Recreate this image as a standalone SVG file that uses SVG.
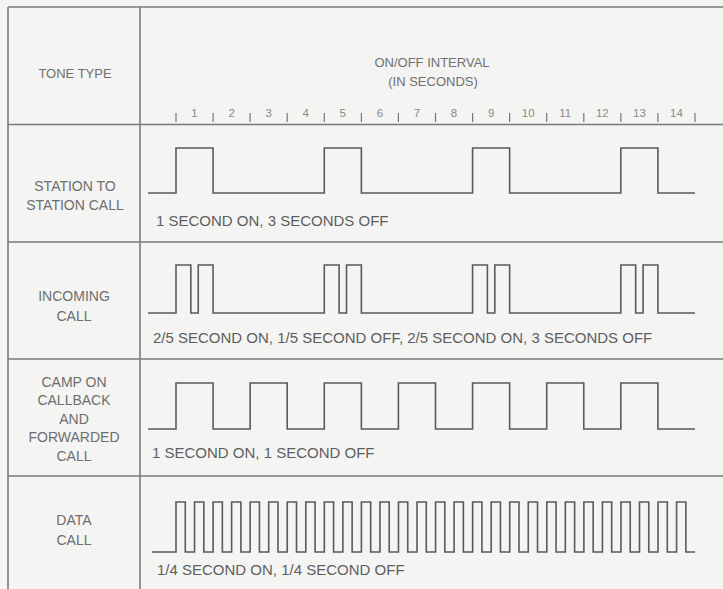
<svg xmlns="http://www.w3.org/2000/svg" width="723" height="589" viewBox="0 0 723 589">
<style>
.bg{fill:#f4f4f2}
.grid{stroke:#7a7a7a;stroke-width:1.6;fill:none}
.wave{stroke:#5a5a5a;stroke-width:1.6;fill:none}
.tick{stroke:#777;stroke-width:1.2}
.lbl{font-family:"Liberation Sans",Arial,sans-serif;font-size:14px;fill:#6e6e6e;text-anchor:middle}
.hdr{font-family:"Liberation Sans",Arial,sans-serif;font-size:13px;fill:#707070;text-anchor:middle}
.num{font-family:"Liberation Sans",Arial,sans-serif;font-size:11.5px;fill:#8a8a8a;text-anchor:middle}
.desc{font-family:"Liberation Sans",Arial,sans-serif;font-size:15px;fill:#5e5e5e}
</style>
<rect class="bg" x="0" y="0" width="723" height="589"/>
<g id="table">
<path class="grid" d="M8,7 H723 M8,7 V589 M140,7 V589 M8,124.5 H723 M8,242 H723 M8,359 H723 M8,476 H723"/>
</g>
<g id="header">
<text class="hdr" x="75" y="78">TONE TYPE</text>
<text class="hdr" x="432" y="67">ON/OFF INTERVAL</text>
<text class="hdr" x="433" y="86">(IN SECONDS)</text>
</g>
<g id="scale">
<path class="tick" d="M176,113v9 M213.1,113v9 M250.1,113v9 M287.2,113v9 M324.3,113v9 M361.4,113v9 M398.4,113v9 M435.5,113v9 M472.6,113v9 M509.6,113v9 M546.7,113v9 M583.8,113v9 M620.9,113v9 M657.9,113v9 M695,113v9"/>
<text class="num" x="194.5" y="117">1</text>
<text class="num" x="231.6" y="117">2</text>
<text class="num" x="268.7" y="117">3</text>
<text class="num" x="305.7" y="117">4</text>
<text class="num" x="342.8" y="117">5</text>
<text class="num" x="379.9" y="117">6</text>
<text class="num" x="417" y="117">7</text>
<text class="num" x="454" y="117">8</text>
<text class="num" x="491.1" y="117">9</text>
<text class="num" x="528.2" y="117">10</text>
<text class="num" x="565.2" y="117">11</text>
<text class="num" x="602.3" y="117">12</text>
<text class="num" x="639.4" y="117">13</text>
<text class="num" x="676.5" y="117">14</text>
</g>
<g id="row-station">
<text class="lbl" x="75" y="191">STATION  TO</text>
<text class="lbl" x="75" y="210">STATION CALL</text>
<path class="wave" d="M148,193 H176 v-45 h37.07 v45 h111.21 v-45 h37.07 v45 h111.21 v-45 h37.07 v45 h111.21 v-45 h37.07 v45 h37.07"/>
<text class="desc" x="156" y="226">1 SECOND ON, 3 SECONDS OFF</text>
</g>
<g id="row-incoming">
<text class="lbl" x="74" y="301">INCOMING</text>
<text class="lbl" x="74" y="321">CALL</text>
<path class="wave" d="M148,313 H176 v-48 h14.83 v48 h7.41 v-48 h14.83 v48 h111.21 v-48 h14.83 v48 h7.41 v-48 h14.83 v48 h111.21 v-48 h14.83 v48 h7.41 v-48 h14.83 v48 h111.21 v-48 h14.83 v48 h7.41 v-48 h14.83 v48 h37.07"/>
<text class="desc" x="153" y="343">2/5 SECOND ON, 1/5 SECOND OFF, 2/5 SECOND ON, 3 SECONDS OFF</text>
</g>
<g id="row-camp">
<text class="lbl" x="74" y="387">CAMP ON</text>
<text class="lbl" x="74" y="405">CALLBACK</text>
<text class="lbl" x="74" y="424">AND</text>
<text class="lbl" x="74" y="442">FORWARDED</text>
<text class="lbl" x="74" y="461">CALL</text>
<path class="wave" d="M148,429 H176 v-46 h37.07 v46 h37.07 v-46 h37.07 v46 h37.07 v-46 h37.07 v46 h37.07 v-46 h37.07 v46 h37.07 v-46 h37.07 v46 h37.07 v-46 h37.07 v46 h37.07 v-46 h37.07 v46 h37.07"/>
<text class="desc" x="152" y="458">1 SECOND ON, 1 SECOND OFF</text>
</g>
<g id="row-data">
<text class="lbl" x="74" y="525">DATA</text>
<text class="lbl" x="74" y="545">CALL</text>
<path class="wave" d="M152,552 H176
v-50h9.27v50h9.27v-50h9.27v50h9.27v-50h9.27v50h9.27v-50h9.27v50h9.27
v-50h9.27v50h9.27v-50h9.27v50h9.27v-50h9.27v50h9.27v-50h9.27v50h9.27
v-50h9.27v50h9.27v-50h9.27v50h9.27v-50h9.27v50h9.27v-50h9.27v50h9.27
v-50h9.27v50h9.27v-50h9.27v50h9.27v-50h9.27v50h9.27v-50h9.27v50h9.27
v-50h9.27v50h9.27v-50h9.27v50h9.27v-50h9.27v50h9.27v-50h9.27v50h9.27
v-50h9.27v50h9.27v-50h9.27v50h9.27v-50h9.27v50h9.27v-50h9.27v50h9.27
v-50h9.27v50h9.27v-50h9.27v50h9.27v-50h9.27v50h9.27v-50h9.27v50h9.27"/>
<text class="desc" x="157" y="575">1/4 SECOND ON, 1/4 SECOND OFF</text>
</g>
</svg>
